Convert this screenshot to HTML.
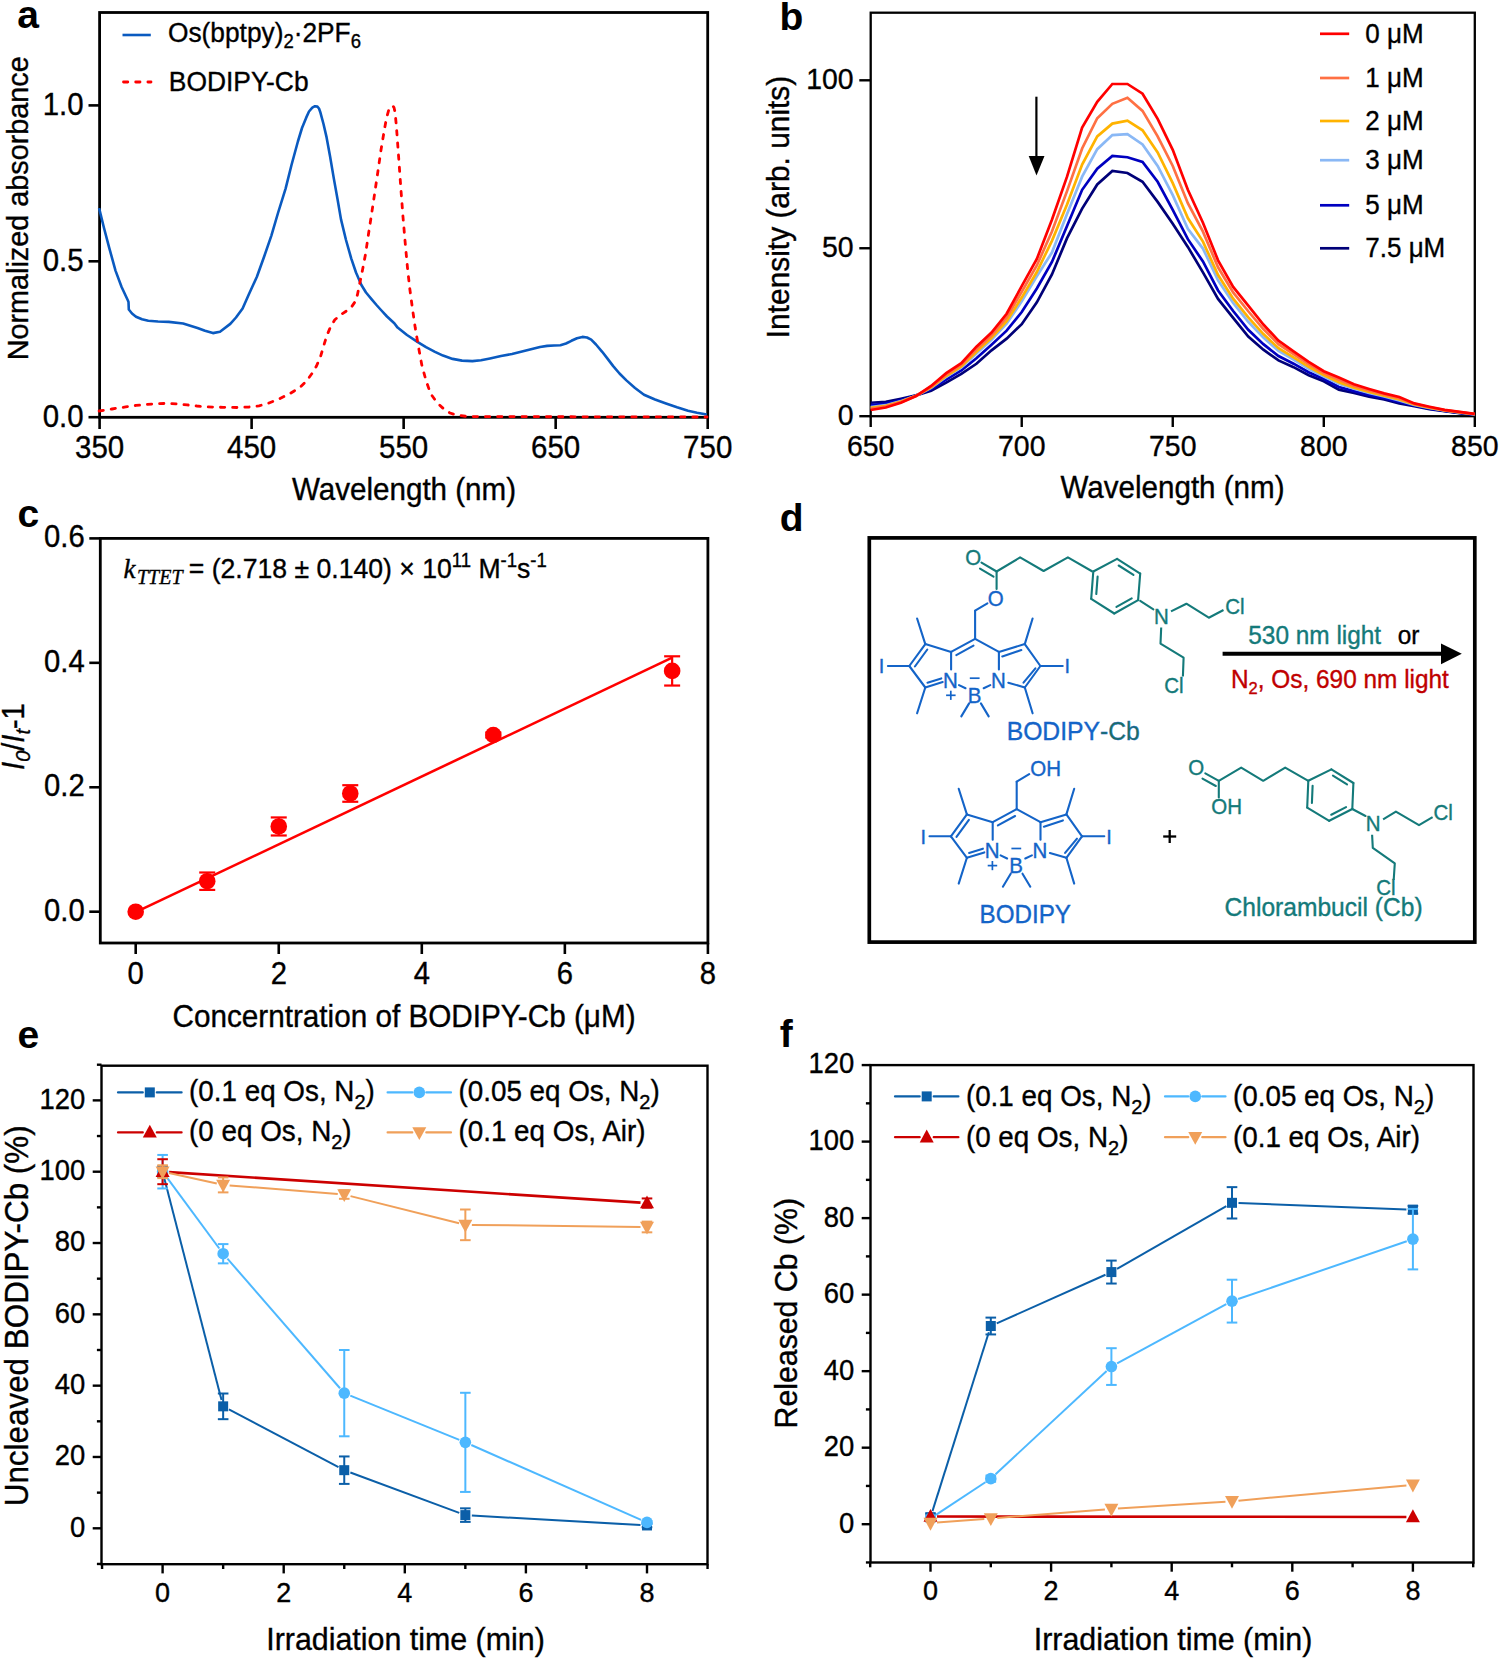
<!DOCTYPE html>
<html><head><meta charset="utf-8"><style>
html,body{margin:0;padding:0;background:#fff;}
body{width:1500px;height:1659px;overflow:hidden;}
svg{display:block;}
</style></head><body>
<svg width="1500" height="1659" viewBox="0 0 1500 1659">
<rect x="0" y="0" width="1500" height="1659" fill="#fff"/>
<rect x="99.6" y="12.5" width="608.1" height="404.8" fill="none" stroke="#000" stroke-width="2.8"/>
<line x1="88.5" y1="417.2" x2="99.6" y2="417.2" stroke="#000" stroke-width="2.6" stroke-linecap="butt" />
<text x="0" y="0" font-family='"Liberation Sans", sans-serif' font-size="29.4" fill="#000" stroke="#000" stroke-width="0.35" text-anchor="end" transform="translate(83.6,426.6) scale(1.0,1.05)" >0.0</text>
<line x1="88.5" y1="261.3" x2="99.6" y2="261.3" stroke="#000" stroke-width="2.6" stroke-linecap="butt" />
<text x="0" y="0" font-family='"Liberation Sans", sans-serif' font-size="29.4" fill="#000" stroke="#000" stroke-width="0.35" text-anchor="end" transform="translate(83.6,270.7) scale(1.0,1.05)" >0.5</text>
<line x1="88.5" y1="105.4" x2="99.6" y2="105.4" stroke="#000" stroke-width="2.6" stroke-linecap="butt" />
<text x="0" y="0" font-family='"Liberation Sans", sans-serif' font-size="29.4" fill="#000" stroke="#000" stroke-width="0.35" text-anchor="end" transform="translate(83.6,114.8) scale(1.0,1.05)" >1.0</text>
<line x1="99.6" y1="417.3" x2="99.6" y2="429" stroke="#000" stroke-width="2.6" stroke-linecap="butt" />
<text x="0" y="0" font-family='"Liberation Sans", sans-serif' font-size="29.5" fill="#000" stroke="#000" stroke-width="0.35" text-anchor="middle" transform="translate(99.6,458.2) scale(1.0,1.05)" >350</text>
<line x1="251.62" y1="417.3" x2="251.62" y2="429" stroke="#000" stroke-width="2.6" stroke-linecap="butt" />
<text x="0" y="0" font-family='"Liberation Sans", sans-serif' font-size="29.5" fill="#000" stroke="#000" stroke-width="0.35" text-anchor="middle" transform="translate(251.62,458.2) scale(1.0,1.05)" >450</text>
<line x1="403.65" y1="417.3" x2="403.65" y2="429" stroke="#000" stroke-width="2.6" stroke-linecap="butt" />
<text x="0" y="0" font-family='"Liberation Sans", sans-serif' font-size="29.5" fill="#000" stroke="#000" stroke-width="0.35" text-anchor="middle" transform="translate(403.65,458.2) scale(1.0,1.05)" >550</text>
<line x1="555.67" y1="417.3" x2="555.67" y2="429" stroke="#000" stroke-width="2.6" stroke-linecap="butt" />
<text x="0" y="0" font-family='"Liberation Sans", sans-serif' font-size="29.5" fill="#000" stroke="#000" stroke-width="0.35" text-anchor="middle" transform="translate(555.67,458.2) scale(1.0,1.05)" >650</text>
<line x1="707.7" y1="417.3" x2="707.7" y2="429" stroke="#000" stroke-width="2.6" stroke-linecap="butt" />
<text x="0" y="0" font-family='"Liberation Sans", sans-serif' font-size="29.5" fill="#000" stroke="#000" stroke-width="0.35" text-anchor="middle" transform="translate(707.7,458.2) scale(1.0,1.05)" >750</text>
<polyline points="99.1,208.1 104,228 109.3,248.1 115.5,270.6 121.6,287 127.8,300.3 128.5,302 128.8,309.5 132,313.5 136,316.7 142,319.3 148.3,320.8 158,321.5 168.8,321.9 183.1,323.5 197.5,328 205,330.8 212.9,333.1 220,331.7 230.3,323.9 236,317.5 242.6,308.5 249,294 256.9,276.8 264,257 271.3,235.8 278,213 285.6,188.6 291.5,165 297.9,141.5 302,128 306.1,117.9 309,111.5 312.3,107.7 315,106.2 317.4,106.6 319,108.5 320.5,112.8 323.5,124 326.6,137.4 330,156 333.8,178.4 337.5,199 341,219.4 346,240 351.2,258.3 356,272.5 361.4,285 366,292.5 371.7,299.3 376.5,305 381,310 387,316.5 394.3,323.2 397.6,327.6 407,335 417.4,341.9 426,347.2 435,351.8 443,355.6 452.6,358.9 462,360.6 472.4,361.1 481,360.2 490,358.4 501,356 512,354 523,351.3 534,348.5 540,347 547.2,345.9 554,345.5 560.4,345.2 566,343.5 571.4,340.8 577,338.2 582.4,336.9 587,337.5 591.2,339.7 596,344.5 602.2,351.8 607.5,358.6 613.2,366.1 619.5,373.5 626.4,380.4 635,388 644,394.7 655,399.5 666,403.5 677,407.3 688,410.8 697,412.7 706.7,414.5" fill="none" stroke="#0A5AC0" stroke-width="2.6" stroke-linejoin="round" stroke-linecap="butt" />
<polyline points="99.1,411 112,409 125.7,406.9 136,405.4 146.2,404.4 157,403.7 168.8,403.4 178,404 187.2,404.9 197,406 207.7,406.9 223,407.3 238.5,407.5 249,407 259,405.9 269,403 279.5,398.7 290,393.5 300,387.4 306.5,381 312.3,373.1 316.5,366 320.5,356.7 323.5,346.5 326.6,336.2 330.5,327 334.8,319.8 341,314.5 347.1,310.6 351.5,307 355.3,301.4 357.5,294.5 359.4,285 362.5,270 365.5,254.2 368.5,234 371.7,213.2 374.8,192.5 377.8,172.2 381,150 384.4,129.6 386.5,118 388.8,109.8 390.8,106.5 392.8,105.8 394,107.5 395,112 396.3,125 397.6,142.8 399.2,165 400.9,189 403,217 405.3,244 407.5,268 409.7,288 412.5,309 415.2,327.6 418.5,347 421.8,365 426,380.5 430.6,393.6 437,402.5 443.8,409 450,413 457,415.2 468,416.6 707,417" fill="none" stroke="#FF0000" stroke-width="2.8" stroke-linejoin="round" stroke-linecap="round" stroke-dasharray="4.3,7.9" />
<text x="0" y="0" font-family='"Liberation Sans", sans-serif' font-size="29.6" fill="#000" stroke="#000" stroke-width="0.35" text-anchor="middle" transform="translate(404,500.3) scale(1.0,1.05)" >Wavelength (nm)</text>
<text x="0" y="0" font-family='"Liberation Sans", sans-serif' font-size="28.8" fill="#000" stroke="#000" stroke-width="0.35" text-anchor="middle" transform="translate(27.5,208.3) rotate(-90) scale(1.0,1.05)" >Normalized absorbance</text>
<text x="0" y="0" font-family='"Liberation Sans", sans-serif' font-size="39" fill="#000" text-anchor="start" font-weight="bold" transform="translate(17.3,28)" >a</text>
<line x1="122.5" y1="35" x2="150.8" y2="35" stroke="#0A5AC0" stroke-width="2.6" stroke-linecap="butt" />
<text x="0" y="0" font-family='"Liberation Sans", sans-serif' font-size="26.3" fill="#000" stroke="#000" stroke-width="0.35" text-anchor="start" transform="translate(168,41.5) scale(1.0,1.05)" >Os(bptpy)<tspan font-size="18.5" dy="6">2</tspan><tspan dy="-6">·2PF</tspan><tspan font-size="18.5" dy="6">6</tspan></text>
<polyline points="123.5,82 151,82" fill="none" stroke="#FF0000" stroke-width="2.8" stroke-linejoin="round" stroke-linecap="round" stroke-dasharray="4.3,7.9" />
<text x="0" y="0" font-family='"Liberation Sans", sans-serif' font-size="26.4" fill="#000" stroke="#000" stroke-width="0.35" text-anchor="start" transform="translate(168.8,91.3) scale(1.0,1.05)" >BODIPY-Cb</text>
<rect x="870.7" y="12.7" width="604.1" height="403.5" fill="none" stroke="#000" stroke-width="2.3"/>
<line x1="859.3" y1="416.2" x2="870.7" y2="416.2" stroke="#000" stroke-width="2.4" stroke-linecap="butt" />
<text x="0" y="0" font-family='"Liberation Sans", sans-serif' font-size="28.4" fill="#000" stroke="#000" stroke-width="0.35" text-anchor="end" transform="translate(853.6,424.8) scale(1.0,1.05)" >0</text>
<line x1="859.3" y1="248.25" x2="870.7" y2="248.25" stroke="#000" stroke-width="2.4" stroke-linecap="butt" />
<text x="0" y="0" font-family='"Liberation Sans", sans-serif' font-size="28.4" fill="#000" stroke="#000" stroke-width="0.35" text-anchor="end" transform="translate(853.6,256.85) scale(1.0,1.05)" >50</text>
<line x1="859.3" y1="80.3" x2="870.7" y2="80.3" stroke="#000" stroke-width="2.4" stroke-linecap="butt" />
<text x="0" y="0" font-family='"Liberation Sans", sans-serif' font-size="28.4" fill="#000" stroke="#000" stroke-width="0.35" text-anchor="end" transform="translate(853.6,88.9) scale(1.0,1.05)" >100</text>
<line x1="870.7" y1="416.2" x2="870.7" y2="427" stroke="#000" stroke-width="2.4" stroke-linecap="butt" />
<text x="0" y="0" font-family='"Liberation Sans", sans-serif' font-size="28.4" fill="#000" stroke="#000" stroke-width="0.35" text-anchor="middle" transform="translate(870.7,456.4) scale(1.0,1.05)" >650</text>
<line x1="1021.73" y1="416.2" x2="1021.73" y2="427" stroke="#000" stroke-width="2.4" stroke-linecap="butt" />
<text x="0" y="0" font-family='"Liberation Sans", sans-serif' font-size="28.4" fill="#000" stroke="#000" stroke-width="0.35" text-anchor="middle" transform="translate(1021.73,456.4) scale(1.0,1.05)" >700</text>
<line x1="1172.75" y1="416.2" x2="1172.75" y2="427" stroke="#000" stroke-width="2.4" stroke-linecap="butt" />
<text x="0" y="0" font-family='"Liberation Sans", sans-serif' font-size="28.4" fill="#000" stroke="#000" stroke-width="0.35" text-anchor="middle" transform="translate(1172.75,456.4) scale(1.0,1.05)" >750</text>
<line x1="1323.78" y1="416.2" x2="1323.78" y2="427" stroke="#000" stroke-width="2.4" stroke-linecap="butt" />
<text x="0" y="0" font-family='"Liberation Sans", sans-serif' font-size="28.4" fill="#000" stroke="#000" stroke-width="0.35" text-anchor="middle" transform="translate(1323.78,456.4) scale(1.0,1.05)" >800</text>
<line x1="1474.8" y1="416.2" x2="1474.8" y2="427" stroke="#000" stroke-width="2.4" stroke-linecap="butt" />
<text x="0" y="0" font-family='"Liberation Sans", sans-serif' font-size="28.4" fill="#000" stroke="#000" stroke-width="0.35" text-anchor="middle" transform="translate(1474.8,456.4) scale(1.0,1.05)" >850</text>
<polyline points="870.7,402.76 885.8,401.76 900.91,398.73 916.01,395.37 931.11,390.67 946.21,382.61 961.32,373.88 976.42,363.8 991.52,350.36 1006.62,338.61 1021.73,324.16 1036.83,302.33 1051.93,274.45 1067.03,238.17 1082.13,208.61 1097.24,184.43 1112.34,170.99 1127.44,173.01 1142.55,181.74 1157.65,201.9 1172.75,223.73 1187.85,246.91 1202.95,272.43 1218.06,298.97 1233.16,317.78 1248.26,336.59 1263.37,349.69 1278.47,360.44 1293.57,367.16 1308.67,375.22 1323.78,381.27 1338.88,389.66 1353.98,393.02 1369.08,396.72 1384.18,399.4 1399.29,403.44 1414.39,406.12 1429.49,409.15 1444.6,411.16 1459.7,413.18 1474.8,414.86" fill="none" stroke="#000078" stroke-width="2.7" stroke-linejoin="miter" stroke-linecap="butt" />
<polyline points="870.7,405.07 885.8,403.58 900.91,400.02 916.01,395.59 931.11,389.17 946.21,379.6 961.32,370.44 976.42,358.32 991.52,344.67 1006.62,330.65 1021.73,312.02 1036.83,288.46 1051.93,262.02 1067.03,226.08 1082.13,189.8 1097.24,168.64 1112.34,155.88 1127.44,157.22 1142.55,161.92 1157.65,181.74 1172.75,209.96 1187.85,239.18 1202.95,261.5 1218.06,290.47 1233.16,310.98 1248.26,329.79 1263.37,344.15 1278.47,356.08 1293.57,363.69 1308.67,372.26 1323.78,379.05 1338.88,387 1353.98,391.1 1369.08,395.02 1384.18,398.07 1399.29,402.03 1414.39,405.53 1429.49,408.63 1444.6,410.87 1459.7,412.88 1474.8,414.63" fill="none" stroke="#0000C0" stroke-width="2.7" stroke-linejoin="miter" stroke-linecap="butt" />
<polyline points="870.7,407.1 885.8,405.18 900.91,401.15 916.01,395.78 931.11,387.85 946.21,376.97 961.32,367.43 976.42,353.52 991.52,339.68 1006.62,323.69 1021.73,301.39 1036.83,276.33 1051.93,252.55 1067.03,213.99 1082.13,176.7 1097.24,149.16 1112.34,135.05 1127.44,134.04 1142.55,144.46 1157.65,165.95 1172.75,195.18 1187.85,228.77 1202.95,248.57 1218.06,280.43 1233.16,302.95 1248.26,321.76 1263.37,337.6 1278.47,350.93 1293.57,359.58 1308.67,368.77 1323.78,376.43 1338.88,383.86 1353.98,388.83 1369.08,393.01 1384.18,396.5 1399.29,400.37 1414.39,404.83 1429.49,408.02 1444.6,410.52 1459.7,412.53 1474.8,414.37" fill="none" stroke="#8AB8F5" stroke-width="2.7" stroke-linejoin="miter" stroke-linecap="butt" />
<polyline points="870.7,407.82 885.8,405.75 900.91,401.55 916.01,395.84 931.11,387.38 946.21,376.03 961.32,366.35 976.42,351.81 991.52,337.9 1006.62,321.21 1021.73,297.59 1036.83,272 1051.93,240.86 1067.03,204.58 1082.13,164.61 1097.24,136.4 1112.34,123.63 1127.44,120.61 1142.55,130.35 1157.65,152.52 1172.75,183.09 1187.85,218.02 1202.95,241.61 1218.06,275.02 1233.16,298.62 1248.26,317.43 1263.37,334.07 1278.47,348.15 1293.57,357.37 1308.67,366.89 1323.78,375.02 1338.88,382.17 1353.98,387.61 1369.08,391.93 1384.18,395.66 1399.29,399.48 1414.39,404.46 1429.49,407.69 1444.6,410.33 1459.7,412.34 1474.8,414.23" fill="none" stroke="#FFB300" stroke-width="2.7" stroke-linejoin="miter" stroke-linecap="butt" />
<polyline points="870.7,408.9 885.8,406.61 900.91,402.16 916.01,395.95 931.11,386.67 946.21,374.62 961.32,364.74 976.42,349.24 991.52,335.23 1006.62,317.48 1021.73,291.9 1036.83,265.5 1051.93,231.45 1067.03,191.15 1082.13,148.49 1097.24,118.26 1112.34,103.81 1127.44,97.77 1142.55,110.87 1157.65,136.4 1172.75,165.95 1187.85,203.24 1202.95,231.67 1218.06,267.3 1233.16,292.44 1248.26,311.25 1263.37,329.03 1278.47,344.19 1293.57,354.21 1308.67,364.2 1323.78,373 1338.88,379.75 1353.98,385.86 1369.08,390.38 1384.18,394.45 1399.29,398.2 1414.39,403.92 1429.49,407.22 1444.6,410.06 1459.7,412.08 1474.8,414.03" fill="none" stroke="#FF7043" stroke-width="2.7" stroke-linejoin="miter" stroke-linecap="butt" />
<polyline points="870.7,409.99 885.8,407.47 900.91,402.76 916.01,396.05 931.11,385.97 946.21,373.2 961.32,363.13 976.42,346.67 991.52,332.56 1006.62,313.75 1021.73,286.21 1036.83,259 1051.93,219.7 1067.03,176.7 1082.13,127.66 1097.24,101.8 1112.34,83.99 1127.44,83.99 1142.55,93.74 1157.65,118.93 1172.75,149.83 1187.85,189.8 1202.95,222.72 1218.06,260.34 1233.16,286.88 1248.26,305.69 1263.37,324.5 1278.47,340.62 1293.57,351.37 1308.67,361.78 1323.78,371.19 1338.88,377.57 1353.98,384.29 1369.08,388.99 1384.18,393.36 1399.29,397.05 1414.39,403.44 1429.49,406.79 1444.6,409.82 1459.7,411.83 1474.8,413.85" fill="none" stroke="#FF0000" stroke-width="2.7" stroke-linejoin="miter" stroke-linecap="butt" />
<line x1="1320" y1="33.8" x2="1349.2" y2="33.8" stroke="#FF0000" stroke-width="2.7" stroke-linecap="butt" />
<text x="0" y="0" font-family='"Liberation Sans", sans-serif' font-size="26" fill="#000" stroke="#000" stroke-width="0.35" text-anchor="start" transform="translate(1365.3,42.7) scale(1.0,1.05)" >0 μM</text>
<line x1="1320" y1="78" x2="1349.2" y2="78" stroke="#FF7043" stroke-width="2.7" stroke-linecap="butt" />
<text x="0" y="0" font-family='"Liberation Sans", sans-serif' font-size="26" fill="#000" stroke="#000" stroke-width="0.35" text-anchor="start" transform="translate(1365.3,86.9) scale(1.0,1.05)" >1 μM</text>
<line x1="1320" y1="121" x2="1349.2" y2="121" stroke="#FFB300" stroke-width="2.7" stroke-linecap="butt" />
<text x="0" y="0" font-family='"Liberation Sans", sans-serif' font-size="26" fill="#000" stroke="#000" stroke-width="0.35" text-anchor="start" transform="translate(1365.3,129.9) scale(1.0,1.05)" >2 μM</text>
<line x1="1320" y1="160.2" x2="1349.2" y2="160.2" stroke="#8AB8F5" stroke-width="2.7" stroke-linecap="butt" />
<text x="0" y="0" font-family='"Liberation Sans", sans-serif' font-size="26" fill="#000" stroke="#000" stroke-width="0.35" text-anchor="start" transform="translate(1365.3,169.1) scale(1.0,1.05)" >3 μM</text>
<line x1="1320" y1="205.3" x2="1349.2" y2="205.3" stroke="#0000C0" stroke-width="2.7" stroke-linecap="butt" />
<text x="0" y="0" font-family='"Liberation Sans", sans-serif' font-size="26" fill="#000" stroke="#000" stroke-width="0.35" text-anchor="start" transform="translate(1365.3,214.2) scale(1.0,1.05)" >5 μM</text>
<line x1="1320" y1="248.3" x2="1349.2" y2="248.3" stroke="#000078" stroke-width="2.7" stroke-linecap="butt" />
<text x="0" y="0" font-family='"Liberation Sans", sans-serif' font-size="26" fill="#000" stroke="#000" stroke-width="0.35" text-anchor="start" transform="translate(1365.3,257.2) scale(1.0,1.05)" >7.5 μM</text>
<line x1="1036.4" y1="96.7" x2="1036.4" y2="158" stroke="#000" stroke-width="2.2" stroke-linecap="butt" />
<polygon points="1028.7,156 1044.5,156 1036.5,175.5" fill="#000" stroke="none" stroke-width="0"/>
<text x="0" y="0" font-family='"Liberation Sans", sans-serif' font-size="29.6" fill="#000" stroke="#000" stroke-width="0.35" text-anchor="middle" transform="translate(1172.5,498.4) scale(1.0,1.05)" >Wavelength (nm)</text>
<text x="0" y="0" font-family='"Liberation Sans", sans-serif' font-size="29.9" fill="#000" stroke="#000" stroke-width="0.35" text-anchor="middle" transform="translate(789,207) rotate(-90) scale(1.0,1.05)" >Intensity (arb. units)</text>
<text x="0" y="0" font-family='"Liberation Sans", sans-serif' font-size="39" fill="#000" text-anchor="start" font-weight="bold" transform="translate(779.6,30.4)" >b</text>
<rect x="100.3" y="538.4" width="607.6" height="404.6" fill="none" stroke="#000" stroke-width="2.8"/>
<line x1="89.3" y1="911.7" x2="100.3" y2="911.7" stroke="#000" stroke-width="2.6" stroke-linecap="butt" />
<text x="0" y="0" font-family='"Liberation Sans", sans-serif' font-size="29.2" fill="#000" stroke="#000" stroke-width="0.35" text-anchor="end" transform="translate(84.7,920.6) scale(1.0,1.05)" >0.0</text>
<line x1="89.3" y1="787.27" x2="100.3" y2="787.27" stroke="#000" stroke-width="2.6" stroke-linecap="butt" />
<text x="0" y="0" font-family='"Liberation Sans", sans-serif' font-size="29.2" fill="#000" stroke="#000" stroke-width="0.35" text-anchor="end" transform="translate(84.7,796.17) scale(1.0,1.05)" >0.2</text>
<line x1="89.3" y1="662.83" x2="100.3" y2="662.83" stroke="#000" stroke-width="2.6" stroke-linecap="butt" />
<text x="0" y="0" font-family='"Liberation Sans", sans-serif' font-size="29.2" fill="#000" stroke="#000" stroke-width="0.35" text-anchor="end" transform="translate(84.7,671.73) scale(1.0,1.05)" >0.4</text>
<line x1="89.3" y1="538.4" x2="100.3" y2="538.4" stroke="#000" stroke-width="2.6" stroke-linecap="butt" />
<text x="0" y="0" font-family='"Liberation Sans", sans-serif' font-size="29.2" fill="#000" stroke="#000" stroke-width="0.35" text-anchor="end" transform="translate(84.7,547.3) scale(1.0,1.05)" >0.6</text>
<line x1="135.7" y1="943" x2="135.7" y2="954" stroke="#000" stroke-width="2.6" stroke-linecap="butt" />
<text x="0" y="0" font-family='"Liberation Sans", sans-serif' font-size="29.2" fill="#000" stroke="#000" stroke-width="0.35" text-anchor="middle" transform="translate(135.7,984.2) scale(1.0,1.05)" >0</text>
<line x1="278.75" y1="943" x2="278.75" y2="954" stroke="#000" stroke-width="2.6" stroke-linecap="butt" />
<text x="0" y="0" font-family='"Liberation Sans", sans-serif' font-size="29.2" fill="#000" stroke="#000" stroke-width="0.35" text-anchor="middle" transform="translate(278.75,984.2) scale(1.0,1.05)" >2</text>
<line x1="421.8" y1="943" x2="421.8" y2="954" stroke="#000" stroke-width="2.6" stroke-linecap="butt" />
<text x="0" y="0" font-family='"Liberation Sans", sans-serif' font-size="29.2" fill="#000" stroke="#000" stroke-width="0.35" text-anchor="middle" transform="translate(421.8,984.2) scale(1.0,1.05)" >4</text>
<line x1="564.85" y1="943" x2="564.85" y2="954" stroke="#000" stroke-width="2.6" stroke-linecap="butt" />
<text x="0" y="0" font-family='"Liberation Sans", sans-serif' font-size="29.2" fill="#000" stroke="#000" stroke-width="0.35" text-anchor="middle" transform="translate(564.85,984.2) scale(1.0,1.05)" >6</text>
<line x1="707.9" y1="943" x2="707.9" y2="954" stroke="#000" stroke-width="2.6" stroke-linecap="butt" />
<text x="0" y="0" font-family='"Liberation Sans", sans-serif' font-size="29.2" fill="#000" stroke="#000" stroke-width="0.35" text-anchor="middle" transform="translate(707.9,984.2) scale(1.0,1.05)" >8</text>
<line x1="135.7" y1="912.2" x2="672.14" y2="657.69" stroke="#FF0000" stroke-width="2.6" stroke-linecap="butt" />
<circle cx="135.7" cy="911.7" r="8.3" fill="#FF0000"/>
<line x1="207.22" y1="872.5" x2="207.22" y2="889.92" stroke="#FF0000" stroke-width="2.2" stroke-linecap="butt" />
<line x1="199.22" y1="872.5" x2="215.22" y2="872.5" stroke="#FF0000" stroke-width="2.2" stroke-linecap="butt" />
<line x1="199.22" y1="889.92" x2="215.22" y2="889.92" stroke="#FF0000" stroke-width="2.2" stroke-linecap="butt" />
<circle cx="207.22" cy="881.21" r="8.3" fill="#FF0000"/>
<line x1="278.75" y1="817.44" x2="278.75" y2="835.48" stroke="#FF0000" stroke-width="2.2" stroke-linecap="butt" />
<line x1="270.75" y1="817.44" x2="286.75" y2="817.44" stroke="#FF0000" stroke-width="2.2" stroke-linecap="butt" />
<line x1="270.75" y1="835.48" x2="286.75" y2="835.48" stroke="#FF0000" stroke-width="2.2" stroke-linecap="butt" />
<circle cx="278.75" cy="826.46" r="8.3" fill="#FF0000"/>
<line x1="350.27" y1="785.21" x2="350.27" y2="801.76" stroke="#FF0000" stroke-width="2.2" stroke-linecap="butt" />
<line x1="342.27" y1="785.21" x2="358.27" y2="785.21" stroke="#FF0000" stroke-width="2.2" stroke-linecap="butt" />
<line x1="342.27" y1="801.76" x2="358.27" y2="801.76" stroke="#FF0000" stroke-width="2.2" stroke-linecap="butt" />
<circle cx="350.27" cy="793.49" r="8.3" fill="#FF0000"/>
<line x1="493.32" y1="732.52" x2="493.32" y2="737.49" stroke="#FF0000" stroke-width="2.2" stroke-linecap="butt" />
<line x1="485.32" y1="732.52" x2="501.32" y2="732.52" stroke="#FF0000" stroke-width="2.2" stroke-linecap="butt" />
<line x1="485.32" y1="737.49" x2="501.32" y2="737.49" stroke="#FF0000" stroke-width="2.2" stroke-linecap="butt" />
<circle cx="493.32" cy="735" r="8.3" fill="#FF0000"/>
<line x1="672.14" y1="656.3" x2="672.14" y2="685.54" stroke="#FF0000" stroke-width="2.2" stroke-linecap="butt" />
<line x1="664.14" y1="656.3" x2="680.14" y2="656.3" stroke="#FF0000" stroke-width="2.2" stroke-linecap="butt" />
<line x1="664.14" y1="685.54" x2="680.14" y2="685.54" stroke="#FF0000" stroke-width="2.2" stroke-linecap="butt" />
<circle cx="672.14" cy="670.92" r="8.3" fill="#FF0000"/>
<text x="0" y="0" font-family='"Liberation Sans", sans-serif' font-size="29.7" fill="#000" stroke="#000" stroke-width="0.35" text-anchor="middle" transform="translate(404,1026.6) scale(1.0,1.05)" >Concerntration of BODIPY-Cb (μM)</text>
<text x="0" y="0" font-family='"Liberation Sans", sans-serif' font-size="29" fill="#000" stroke="#000" stroke-width="0.35" text-anchor="middle" transform="translate(24,736.6) rotate(-90) scale(1.0,1.05)" ><tspan font-style="italic">I</tspan><tspan font-style="italic" font-size="20" dy="6">0</tspan><tspan dy="-6">/</tspan><tspan font-style="italic">I</tspan><tspan font-style="italic" font-size="20" dy="6">t</tspan><tspan dy="-6">-1</tspan></text>
<text x="0" y="0" font-family='"Liberation Sans", sans-serif' font-size="39" fill="#000" text-anchor="start" font-weight="bold" transform="translate(17.5,527.3)" >c</text>
<text x="0" y="0" font-family='"Liberation Serif", serif' font-size="27" fill="#000" stroke="#000" stroke-width="0.35" text-anchor="start" font-style="italic" transform="translate(123.5,577.6) scale(1.0,1.05)" >k</text>
<text x="0" y="0" font-family='"Liberation Serif", serif' font-size="20" fill="#000" stroke="#000" stroke-width="0.35" text-anchor="start" font-style="italic" transform="translate(137,584.3) scale(1.0,1.05)" >TTET</text>
<text x="0" y="0" font-family='"Liberation Sans", sans-serif' font-size="26.6" fill="#000" stroke="#000" stroke-width="0.35" text-anchor="start" transform="translate(188.8,577.6) scale(1.0,1.05)" >= (2.718 ± 0.140) × 10<tspan font-size="18.5" dy="-10">11</tspan><tspan dy="10"> M</tspan><tspan font-size="18.5" dy="-10">-1</tspan><tspan dy="10">s</tspan><tspan font-size="18.5" dy="-10">-1</tspan></text>
<rect x="869.3" y="537.9" width="605.5" height="404.2" fill="none" stroke="#000" stroke-width="3.7"/>
<text x="0" y="0" font-family='"Liberation Sans", sans-serif' font-size="39" fill="#000" text-anchor="start" font-weight="bold" transform="translate(779.8,531.2)" >d</text>
<line x1="975.1" y1="638.9" x2="951.1" y2="651.9" stroke="#1464C8" stroke-width="2.1" stroke-linecap="round" />
<line x1="975.1" y1="638.9" x2="998.9" y2="651.9" stroke="#1464C8" stroke-width="2.1" stroke-linecap="round" />
<line x1="956.3" y1="655.1" x2="973.5" y2="645.7" stroke="#1464C8" stroke-width="2.1" stroke-linecap="round" />
<line x1="951.1" y1="651.9" x2="925.3" y2="644.1" stroke="#1464C8" stroke-width="2.1" stroke-linecap="round" />
<line x1="925.3" y1="644.1" x2="909.3" y2="666" stroke="#1464C8" stroke-width="2.1" stroke-linecap="round" />
<line x1="909.3" y1="666" x2="925.3" y2="687.5" stroke="#1464C8" stroke-width="2.1" stroke-linecap="round" />
<line x1="927.3" y1="649.5" x2="914.9" y2="666.5" stroke="#1464C8" stroke-width="2.1" stroke-linecap="round" />
<line x1="925.3" y1="687.5" x2="942.7" y2="682.1" stroke="#1464C8" stroke-width="2.1" stroke-linecap="round" />
<line x1="927.5" y1="682.7" x2="941.3" y2="678.4" stroke="#1464C8" stroke-width="2.1" stroke-linecap="round" />
<line x1="951.1" y1="651.9" x2="951.1" y2="669.4" stroke="#1464C8" stroke-width="2.1" stroke-linecap="round" />
<line x1="998.9" y1="651.9" x2="1024.8" y2="644.1" stroke="#1464C8" stroke-width="2.1" stroke-linecap="round" />
<line x1="1024.8" y1="644.1" x2="1040.4" y2="666" stroke="#1464C8" stroke-width="2.1" stroke-linecap="round" />
<line x1="1040.4" y1="666" x2="1024.8" y2="687.5" stroke="#1464C8" stroke-width="2.1" stroke-linecap="round" />
<line x1="1002.3" y1="656.4" x2="1021.3" y2="650.1" stroke="#1464C8" stroke-width="2.1" stroke-linecap="round" />
<line x1="1035.4" y1="668.4" x2="1023.5" y2="682.6" stroke="#1464C8" stroke-width="2.1" stroke-linecap="round" />
<line x1="1024.8" y1="687.5" x2="1008.3" y2="682.7" stroke="#1464C8" stroke-width="2.1" stroke-linecap="round" />
<line x1="998.9" y1="651.9" x2="998.9" y2="669.4" stroke="#1464C8" stroke-width="2.1" stroke-linecap="round" />
<line x1="925.3" y1="644.1" x2="917.1" y2="618.5" stroke="#1464C8" stroke-width="2.1" stroke-linecap="round" />
<line x1="925.3" y1="687.5" x2="917.1" y2="713.3" stroke="#1464C8" stroke-width="2.1" stroke-linecap="round" />
<line x1="1024.8" y1="644.1" x2="1032.6" y2="618.5" stroke="#1464C8" stroke-width="2.1" stroke-linecap="round" />
<line x1="1024.8" y1="687.5" x2="1032.6" y2="713.3" stroke="#1464C8" stroke-width="2.1" stroke-linecap="round" />
<line x1="909.3" y1="666" x2="887.9" y2="666" stroke="#1464C8" stroke-width="2.1" stroke-linecap="round" />
<line x1="1040.4" y1="666" x2="1062.7" y2="666" stroke="#1464C8" stroke-width="2.1" stroke-linecap="round" />
<text x="0" y="0" font-family='"Liberation Sans", sans-serif' font-size="20" fill="#1464C8" stroke="#1464C8" stroke-width="0.35" text-anchor="middle" transform="translate(881.6,673.2) scale(1.0,1.05)" >I</text>
<text x="0" y="0" font-family='"Liberation Sans", sans-serif' font-size="20" fill="#1464C8" stroke="#1464C8" stroke-width="0.35" text-anchor="middle" transform="translate(1067.3,673.2) scale(1.0,1.05)" >I</text>
<text x="0" y="0" font-family='"Liberation Sans", sans-serif' font-size="20.5" fill="#1464C8" stroke="#1464C8" stroke-width="0.35" text-anchor="middle" transform="translate(950.5,687.7) scale(1.0,1.05)" >N</text>
<text x="0" y="0" font-family='"Liberation Sans", sans-serif' font-size="20.5" fill="#1464C8" stroke="#1464C8" stroke-width="0.35" text-anchor="middle" transform="translate(998.3,687.7) scale(1.0,1.05)" >N</text>
<text x="0" y="0" font-family='"Liberation Sans", sans-serif' font-size="20.5" fill="#1464C8" stroke="#1464C8" stroke-width="0.35" text-anchor="middle" transform="translate(974.6,702.5) scale(1.0,1.05)" >B</text>
<line x1="969.8" y1="678.2" x2="979.6" y2="678.2" stroke="#1464C8" stroke-width="1.7" stroke-linecap="butt" />
<line x1="946.1" y1="695.3" x2="955.6" y2="695.3" stroke="#1464C8" stroke-width="1.7" stroke-linecap="butt" />
<line x1="950.8" y1="690.7" x2="950.8" y2="699.9" stroke="#1464C8" stroke-width="1.7" stroke-linecap="butt" />
<line x1="959" y1="685.1" x2="965.5" y2="688.2" stroke="#1464C8" stroke-width="2.1" stroke-linecap="round" />
<line x1="983.7" y1="688.2" x2="990.3" y2="685.1" stroke="#1464C8" stroke-width="2.1" stroke-linecap="round" />
<line x1="969.1" y1="703.4" x2="961.3" y2="716.4" stroke="#1464C8" stroke-width="2.1" stroke-linecap="round" />
<line x1="980.9" y1="703.4" x2="988.7" y2="716.4" stroke="#1464C8" stroke-width="2.1" stroke-linecap="round" />
<line x1="975.1" y1="638.9" x2="975.1" y2="610.7" stroke="#1464C8" stroke-width="2.1" stroke-linecap="round" />
<line x1="975.1" y1="610.7" x2="987.4" y2="603.4" stroke="#1464C8" stroke-width="2.1" stroke-linecap="round" />
<text x="0" y="0" font-family='"Liberation Sans", sans-serif' font-size="20.5" fill="#1464C8" stroke="#1464C8" stroke-width="0.35" text-anchor="middle" transform="translate(995.8,606.2) scale(1.0,1.05)" >O</text>
<line x1="996.6" y1="589" x2="996.6" y2="571.5" stroke="#147A7A" stroke-width="2.1" stroke-linecap="round" />
<line x1="996.6" y1="571.5" x2="981.5" y2="562.6" stroke="#147A7A" stroke-width="2.1" stroke-linecap="round" />
<line x1="993.5" y1="576.6" x2="980" y2="568.6" stroke="#147A7A" stroke-width="2.1" stroke-linecap="round" />
<text x="0" y="0" font-family='"Liberation Sans", sans-serif' font-size="20.5" fill="#147A7A" stroke="#147A7A" stroke-width="0.35" text-anchor="middle" transform="translate(973.3,564.6) scale(1.0,1.05)" >O</text>
<polyline points="996.6,571.5 1020.1,557.4 1043.6,571 1067.9,557.4 1092.4,571.5" fill="none" stroke="#147A7A" stroke-width="2.1" stroke-linejoin="round" stroke-linecap="butt" />
<line x1="1093.3" y1="571.5" x2="1117.1" y2="558.9" stroke="#147A7A" stroke-width="2.1" stroke-linecap="round" />
<line x1="1117.1" y1="558.9" x2="1140.2" y2="573.6" stroke="#147A7A" stroke-width="2.1" stroke-linecap="round" />
<line x1="1140.2" y1="573.6" x2="1138.1" y2="600.2" stroke="#147A7A" stroke-width="2.1" stroke-linecap="round" />
<line x1="1138.1" y1="600.2" x2="1114.3" y2="613.5" stroke="#147A7A" stroke-width="2.1" stroke-linecap="round" />
<line x1="1114.3" y1="613.5" x2="1091.2" y2="598.8" stroke="#147A7A" stroke-width="2.1" stroke-linecap="round" />
<line x1="1091.2" y1="598.8" x2="1093.3" y2="571.5" stroke="#147A7A" stroke-width="2.1" stroke-linecap="round" />
<line x1="1118.67" y1="565.51" x2="1133.45" y2="574.92" stroke="#147A7A" stroke-width="2.1" stroke-linecap="round" />
<line x1="1131.72" y1="598.44" x2="1116.48" y2="606.95" stroke="#147A7A" stroke-width="2.1" stroke-linecap="round" />
<line x1="1096.27" y1="594.07" x2="1097.61" y2="576.6" stroke="#147A7A" stroke-width="2.1" stroke-linecap="round" />
<line x1="1140.2" y1="600.9" x2="1153.4" y2="609.3" stroke="#147A7A" stroke-width="2.1" stroke-linecap="round" />
<text x="0" y="0" font-family='"Liberation Sans", sans-serif' font-size="20.5" fill="#147A7A" stroke="#147A7A" stroke-width="0.35" text-anchor="middle" transform="translate(1161.4,624) scale(1.0,1.05)" >N</text>
<polyline points="1171,611.4 1186.4,603.7 1208.8,617.7 1223.5,610" fill="none" stroke="#147A7A" stroke-width="2.1" stroke-linejoin="round" stroke-linecap="butt" />
<text x="0" y="0" font-family='"Liberation Sans", sans-serif' font-size="20.5" fill="#147A7A" stroke="#147A7A" stroke-width="0.35" text-anchor="start" transform="translate(1225.3,613.5) scale(1.0,1.05)" >Cl</text>
<polyline points="1161.2,627.5 1160.5,643.6 1183.6,657.6 1182.9,676.5" fill="none" stroke="#147A7A" stroke-width="2.1" stroke-linejoin="round" stroke-linecap="butt" />
<text x="0" y="0" font-family='"Liberation Sans", sans-serif' font-size="20.5" fill="#147A7A" stroke="#147A7A" stroke-width="0.35" text-anchor="start" transform="translate(1164.3,693.3) scale(1.0,1.05)" >Cl</text>
<text x="0" y="0" font-family='"Liberation Sans", sans-serif' font-size="24.7" fill="#1464C8" stroke="#1464C8" stroke-width="0.35" text-anchor="start" transform="translate(1006.7,739.7) scale(1.0,1.05)" >BODIPY<tspan fill="#1C6E5E">-Cb</tspan></text>
<line x1="1222.6" y1="653.8" x2="1443" y2="653.8" stroke="#000" stroke-width="4.1" stroke-linecap="butt" />
<polygon points="1441,643.6 1441,664.2 1461.8,653.8" fill="#000" stroke="none" stroke-width="0"/>
<text x="0" y="0" font-family='"Liberation Sans", sans-serif' font-size="24.4" fill="#147A7A" stroke="#147A7A" stroke-width="0.35" text-anchor="start" transform="translate(1248.3,643.8) scale(1.0,1.05)" >530 nm light</text>
<text x="0" y="0" font-family='"Liberation Sans", sans-serif' font-size="24.4" fill="#000" stroke="#000" stroke-width="0.35" text-anchor="start" transform="translate(1397.8,643.8) scale(1.0,1.05)" >or</text>
<text x="0" y="0" font-family='"Liberation Sans", sans-serif' font-size="24.4" fill="#C00000" stroke="#C00000" stroke-width="0.35" text-anchor="start" transform="translate(1231,687.8) scale(1.0,1.05)" >N<tspan font-size="16.5" dy="5.5">2</tspan><tspan dy="-5.5">, Os, 690 nm light</tspan></text>
<line x1="1016.7" y1="809.2" x2="992.7" y2="822.2" stroke="#1464C8" stroke-width="2.1" stroke-linecap="round" />
<line x1="1016.7" y1="809.2" x2="1040.5" y2="822.2" stroke="#1464C8" stroke-width="2.1" stroke-linecap="round" />
<line x1="997.9" y1="825.4" x2="1015.1" y2="816" stroke="#1464C8" stroke-width="2.1" stroke-linecap="round" />
<line x1="992.7" y1="822.2" x2="966.9" y2="814.4" stroke="#1464C8" stroke-width="2.1" stroke-linecap="round" />
<line x1="966.9" y1="814.4" x2="950.9" y2="836.3" stroke="#1464C8" stroke-width="2.1" stroke-linecap="round" />
<line x1="950.9" y1="836.3" x2="966.9" y2="857.8" stroke="#1464C8" stroke-width="2.1" stroke-linecap="round" />
<line x1="968.9" y1="819.8" x2="956.5" y2="836.8" stroke="#1464C8" stroke-width="2.1" stroke-linecap="round" />
<line x1="966.9" y1="857.8" x2="984.3" y2="852.4" stroke="#1464C8" stroke-width="2.1" stroke-linecap="round" />
<line x1="969.1" y1="853" x2="982.9" y2="848.7" stroke="#1464C8" stroke-width="2.1" stroke-linecap="round" />
<line x1="992.7" y1="822.2" x2="992.7" y2="839.7" stroke="#1464C8" stroke-width="2.1" stroke-linecap="round" />
<line x1="1040.5" y1="822.2" x2="1066.4" y2="814.4" stroke="#1464C8" stroke-width="2.1" stroke-linecap="round" />
<line x1="1066.4" y1="814.4" x2="1082" y2="836.3" stroke="#1464C8" stroke-width="2.1" stroke-linecap="round" />
<line x1="1082" y1="836.3" x2="1066.4" y2="857.8" stroke="#1464C8" stroke-width="2.1" stroke-linecap="round" />
<line x1="1043.9" y1="826.7" x2="1062.9" y2="820.4" stroke="#1464C8" stroke-width="2.1" stroke-linecap="round" />
<line x1="1077" y1="838.7" x2="1065.1" y2="852.9" stroke="#1464C8" stroke-width="2.1" stroke-linecap="round" />
<line x1="1066.4" y1="857.8" x2="1049.9" y2="853" stroke="#1464C8" stroke-width="2.1" stroke-linecap="round" />
<line x1="1040.5" y1="822.2" x2="1040.5" y2="839.7" stroke="#1464C8" stroke-width="2.1" stroke-linecap="round" />
<line x1="966.9" y1="814.4" x2="958.7" y2="788.8" stroke="#1464C8" stroke-width="2.1" stroke-linecap="round" />
<line x1="966.9" y1="857.8" x2="958.7" y2="883.6" stroke="#1464C8" stroke-width="2.1" stroke-linecap="round" />
<line x1="1066.4" y1="814.4" x2="1074.2" y2="788.8" stroke="#1464C8" stroke-width="2.1" stroke-linecap="round" />
<line x1="1066.4" y1="857.8" x2="1074.2" y2="883.6" stroke="#1464C8" stroke-width="2.1" stroke-linecap="round" />
<line x1="950.9" y1="836.3" x2="929.5" y2="836.3" stroke="#1464C8" stroke-width="2.1" stroke-linecap="round" />
<line x1="1082" y1="836.3" x2="1104.3" y2="836.3" stroke="#1464C8" stroke-width="2.1" stroke-linecap="round" />
<text x="0" y="0" font-family='"Liberation Sans", sans-serif' font-size="20" fill="#1464C8" stroke="#1464C8" stroke-width="0.35" text-anchor="middle" transform="translate(923.2,843.5) scale(1.0,1.05)" >I</text>
<text x="0" y="0" font-family='"Liberation Sans", sans-serif' font-size="20" fill="#1464C8" stroke="#1464C8" stroke-width="0.35" text-anchor="middle" transform="translate(1108.9,843.5) scale(1.0,1.05)" >I</text>
<text x="0" y="0" font-family='"Liberation Sans", sans-serif' font-size="20.5" fill="#1464C8" stroke="#1464C8" stroke-width="0.35" text-anchor="middle" transform="translate(992.1,858) scale(1.0,1.05)" >N</text>
<text x="0" y="0" font-family='"Liberation Sans", sans-serif' font-size="20.5" fill="#1464C8" stroke="#1464C8" stroke-width="0.35" text-anchor="middle" transform="translate(1039.9,858) scale(1.0,1.05)" >N</text>
<text x="0" y="0" font-family='"Liberation Sans", sans-serif' font-size="20.5" fill="#1464C8" stroke="#1464C8" stroke-width="0.35" text-anchor="middle" transform="translate(1016.2,872.8) scale(1.0,1.05)" >B</text>
<line x1="1011.4" y1="848.5" x2="1021.2" y2="848.5" stroke="#1464C8" stroke-width="1.7" stroke-linecap="butt" />
<line x1="987.7" y1="865.6" x2="997.2" y2="865.6" stroke="#1464C8" stroke-width="1.7" stroke-linecap="butt" />
<line x1="992.4" y1="861" x2="992.4" y2="870.2" stroke="#1464C8" stroke-width="1.7" stroke-linecap="butt" />
<line x1="1000.6" y1="855.4" x2="1007.1" y2="858.5" stroke="#1464C8" stroke-width="2.1" stroke-linecap="round" />
<line x1="1025.3" y1="858.5" x2="1031.9" y2="855.4" stroke="#1464C8" stroke-width="2.1" stroke-linecap="round" />
<line x1="1010.7" y1="873.7" x2="1002.9" y2="886.7" stroke="#1464C8" stroke-width="2.1" stroke-linecap="round" />
<line x1="1022.5" y1="873.7" x2="1030.3" y2="886.7" stroke="#1464C8" stroke-width="2.1" stroke-linecap="round" />
<line x1="1016.7" y1="809.2" x2="1016.7" y2="781.7" stroke="#1464C8" stroke-width="2.1" stroke-linecap="round" />
<line x1="1016.7" y1="781.7" x2="1029.2" y2="774.2" stroke="#1464C8" stroke-width="2.1" stroke-linecap="round" />
<text x="0" y="0" font-family='"Liberation Sans", sans-serif' font-size="20.5" fill="#1464C8" stroke="#1464C8" stroke-width="0.35" text-anchor="start" transform="translate(1030.2,775.8) scale(1.0,1.05)" >OH</text>
<text x="0" y="0" font-family='"Liberation Sans", sans-serif' font-size="24.2" fill="#1464C8" stroke="#1464C8" stroke-width="0.35" text-anchor="middle" transform="translate(1025.3,922.5) scale(1.0,1.05)" >BODIPY</text>
<line x1="1163.2" y1="836.5" x2="1176.2" y2="836.5" stroke="#000" stroke-width="2.3" stroke-linecap="butt" />
<line x1="1169.7" y1="830" x2="1169.7" y2="843" stroke="#000" stroke-width="2.3" stroke-linecap="butt" />
<line x1="1218.8" y1="780.8" x2="1205.3" y2="773.3" stroke="#147A7A" stroke-width="2.1" stroke-linecap="round" />
<line x1="1215.8" y1="786" x2="1202.5" y2="778.6" stroke="#147A7A" stroke-width="2.1" stroke-linecap="round" />
<text x="0" y="0" font-family='"Liberation Sans", sans-serif' font-size="20.5" fill="#147A7A" stroke="#147A7A" stroke-width="0.35" text-anchor="middle" transform="translate(1196.1,775.3) scale(1.0,1.05)" >O</text>
<line x1="1218.8" y1="780.8" x2="1218.8" y2="797.5" stroke="#147A7A" stroke-width="2.1" stroke-linecap="round" />
<text x="0" y="0" font-family='"Liberation Sans", sans-serif' font-size="20.5" fill="#147A7A" stroke="#147A7A" stroke-width="0.35" text-anchor="start" transform="translate(1211.2,813.8) scale(1.0,1.05)" >OH</text>
<polyline points="1218.8,780.8 1241.2,767.6 1263.2,780.8 1285.2,767.6 1308.3,780.8" fill="none" stroke="#147A7A" stroke-width="2.1" stroke-linejoin="round" stroke-linecap="butt" />
<line x1="1308.3" y1="780.8" x2="1331.4" y2="769.4" stroke="#147A7A" stroke-width="2.1" stroke-linecap="round" />
<line x1="1331.4" y1="769.4" x2="1353.4" y2="783" stroke="#147A7A" stroke-width="2.1" stroke-linecap="round" />
<line x1="1353.4" y1="783" x2="1352.3" y2="809" stroke="#147A7A" stroke-width="2.1" stroke-linecap="round" />
<line x1="1352.3" y1="809" x2="1329.2" y2="820.8" stroke="#147A7A" stroke-width="2.1" stroke-linecap="round" />
<line x1="1329.2" y1="820.8" x2="1307.2" y2="807.6" stroke="#147A7A" stroke-width="2.1" stroke-linecap="round" />
<line x1="1307.2" y1="807.6" x2="1308.3" y2="780.8" stroke="#147A7A" stroke-width="2.1" stroke-linecap="round" />
<line x1="1332.94" y1="775.63" x2="1347.02" y2="784.33" stroke="#147A7A" stroke-width="2.1" stroke-linecap="round" />
<line x1="1346.05" y1="807.16" x2="1331.27" y2="814.72" stroke="#147A7A" stroke-width="2.1" stroke-linecap="round" />
<line x1="1311.91" y1="802.96" x2="1312.61" y2="785.8" stroke="#147A7A" stroke-width="2.1" stroke-linecap="round" />
<line x1="1352.3" y1="809" x2="1365.5" y2="816" stroke="#147A7A" stroke-width="2.1" stroke-linecap="round" />
<text x="0" y="0" font-family='"Liberation Sans", sans-serif' font-size="20.5" fill="#147A7A" stroke="#147A7A" stroke-width="0.35" text-anchor="middle" transform="translate(1373.2,831) scale(1.0,1.05)" >N</text>
<polyline points="1383.1,819.3 1395.9,811.6 1419,825.2 1432.6,817.1" fill="none" stroke="#147A7A" stroke-width="2.1" stroke-linejoin="round" stroke-linecap="butt" />
<text x="0" y="0" font-family='"Liberation Sans", sans-serif' font-size="20.5" fill="#147A7A" stroke="#147A7A" stroke-width="0.35" text-anchor="start" transform="translate(1433.4,820.4) scale(1.0,1.05)" >Cl</text>
<polyline points="1372.1,834.7 1372.8,847.9 1394.8,863.3 1393.7,880" fill="none" stroke="#147A7A" stroke-width="2.1" stroke-linejoin="round" stroke-linecap="butt" />
<text x="0" y="0" font-family='"Liberation Sans", sans-serif' font-size="20.5" fill="#147A7A" stroke="#147A7A" stroke-width="0.35" text-anchor="start" transform="translate(1376.2,895.2) scale(1.0,1.05)" >Cl</text>
<text x="0" y="0" font-family='"Liberation Sans", sans-serif' font-size="24.6" fill="#147A7A" stroke="#147A7A" stroke-width="0.35" text-anchor="start" transform="translate(1224.5,916.1) scale(1.0,1.05)" >Chlorambucil (Cb)</text>
<rect x="101.5" y="1065.7" width="606" height="498.5" fill="none" stroke="#000" stroke-width="2.4"/>
<line x1="96.9" y1="1563.96" x2="101.5" y2="1563.96" stroke="#000" stroke-width="2.4" stroke-linecap="butt" />
<line x1="92.7" y1="1528.3" x2="101.5" y2="1528.3" stroke="#000" stroke-width="2.4" stroke-linecap="butt" />
<text x="0" y="0" font-family='"Liberation Sans", sans-serif' font-size="27.4" fill="#000" stroke="#000" stroke-width="0.35" text-anchor="end" transform="translate(85.2,1536.7) scale(1.0,1.05)" >0</text>
<line x1="96.9" y1="1492.64" x2="101.5" y2="1492.64" stroke="#000" stroke-width="2.4" stroke-linecap="butt" />
<line x1="92.7" y1="1456.98" x2="101.5" y2="1456.98" stroke="#000" stroke-width="2.4" stroke-linecap="butt" />
<text x="0" y="0" font-family='"Liberation Sans", sans-serif' font-size="27.4" fill="#000" stroke="#000" stroke-width="0.35" text-anchor="end" transform="translate(85.2,1465.38) scale(1.0,1.05)" >20</text>
<line x1="96.9" y1="1421.32" x2="101.5" y2="1421.32" stroke="#000" stroke-width="2.4" stroke-linecap="butt" />
<line x1="92.7" y1="1385.66" x2="101.5" y2="1385.66" stroke="#000" stroke-width="2.4" stroke-linecap="butt" />
<text x="0" y="0" font-family='"Liberation Sans", sans-serif' font-size="27.4" fill="#000" stroke="#000" stroke-width="0.35" text-anchor="end" transform="translate(85.2,1394.06) scale(1.0,1.05)" >40</text>
<line x1="96.9" y1="1350" x2="101.5" y2="1350" stroke="#000" stroke-width="2.4" stroke-linecap="butt" />
<line x1="92.7" y1="1314.34" x2="101.5" y2="1314.34" stroke="#000" stroke-width="2.4" stroke-linecap="butt" />
<text x="0" y="0" font-family='"Liberation Sans", sans-serif' font-size="27.4" fill="#000" stroke="#000" stroke-width="0.35" text-anchor="end" transform="translate(85.2,1322.74) scale(1.0,1.05)" >60</text>
<line x1="96.9" y1="1278.68" x2="101.5" y2="1278.68" stroke="#000" stroke-width="2.4" stroke-linecap="butt" />
<line x1="92.7" y1="1243.02" x2="101.5" y2="1243.02" stroke="#000" stroke-width="2.4" stroke-linecap="butt" />
<text x="0" y="0" font-family='"Liberation Sans", sans-serif' font-size="27.4" fill="#000" stroke="#000" stroke-width="0.35" text-anchor="end" transform="translate(85.2,1251.42) scale(1.0,1.05)" >80</text>
<line x1="96.9" y1="1207.36" x2="101.5" y2="1207.36" stroke="#000" stroke-width="2.4" stroke-linecap="butt" />
<line x1="92.7" y1="1171.7" x2="101.5" y2="1171.7" stroke="#000" stroke-width="2.4" stroke-linecap="butt" />
<text x="0" y="0" font-family='"Liberation Sans", sans-serif' font-size="27.4" fill="#000" stroke="#000" stroke-width="0.35" text-anchor="end" transform="translate(85.2,1180.1) scale(1.0,1.05)" >100</text>
<line x1="96.9" y1="1136.04" x2="101.5" y2="1136.04" stroke="#000" stroke-width="2.4" stroke-linecap="butt" />
<line x1="92.7" y1="1100.38" x2="101.5" y2="1100.38" stroke="#000" stroke-width="2.4" stroke-linecap="butt" />
<text x="0" y="0" font-family='"Liberation Sans", sans-serif' font-size="27.4" fill="#000" stroke="#000" stroke-width="0.35" text-anchor="end" transform="translate(85.2,1108.78) scale(1.0,1.05)" >120</text>
<line x1="96.9" y1="1064.72" x2="101.5" y2="1064.72" stroke="#000" stroke-width="2.4" stroke-linecap="butt" />
<line x1="102.05" y1="1564.2" x2="102.05" y2="1569" stroke="#000" stroke-width="2.4" stroke-linecap="butt" />
<line x1="162.6" y1="1564.2" x2="162.6" y2="1573.4" stroke="#000" stroke-width="2.4" stroke-linecap="butt" />
<text x="0" y="0" font-family='"Liberation Sans", sans-serif' font-size="27" fill="#000" stroke="#000" stroke-width="0.35" text-anchor="middle" transform="translate(162.6,1601.8) scale(1.0,1.05)" >0</text>
<line x1="223.15" y1="1564.2" x2="223.15" y2="1569" stroke="#000" stroke-width="2.4" stroke-linecap="butt" />
<line x1="283.7" y1="1564.2" x2="283.7" y2="1573.4" stroke="#000" stroke-width="2.4" stroke-linecap="butt" />
<text x="0" y="0" font-family='"Liberation Sans", sans-serif' font-size="27" fill="#000" stroke="#000" stroke-width="0.35" text-anchor="middle" transform="translate(283.7,1601.8) scale(1.0,1.05)" >2</text>
<line x1="344.25" y1="1564.2" x2="344.25" y2="1569" stroke="#000" stroke-width="2.4" stroke-linecap="butt" />
<line x1="404.8" y1="1564.2" x2="404.8" y2="1573.4" stroke="#000" stroke-width="2.4" stroke-linecap="butt" />
<text x="0" y="0" font-family='"Liberation Sans", sans-serif' font-size="27" fill="#000" stroke="#000" stroke-width="0.35" text-anchor="middle" transform="translate(404.8,1601.8) scale(1.0,1.05)" >4</text>
<line x1="465.35" y1="1564.2" x2="465.35" y2="1569" stroke="#000" stroke-width="2.4" stroke-linecap="butt" />
<line x1="525.9" y1="1564.2" x2="525.9" y2="1573.4" stroke="#000" stroke-width="2.4" stroke-linecap="butt" />
<text x="0" y="0" font-family='"Liberation Sans", sans-serif' font-size="27" fill="#000" stroke="#000" stroke-width="0.35" text-anchor="middle" transform="translate(525.9,1601.8) scale(1.0,1.05)" >6</text>
<line x1="586.45" y1="1564.2" x2="586.45" y2="1569" stroke="#000" stroke-width="2.4" stroke-linecap="butt" />
<line x1="647" y1="1564.2" x2="647" y2="1573.4" stroke="#000" stroke-width="2.4" stroke-linecap="butt" />
<text x="0" y="0" font-family='"Liberation Sans", sans-serif' font-size="27" fill="#000" stroke="#000" stroke-width="0.35" text-anchor="middle" transform="translate(647,1601.8) scale(1.0,1.05)" >8</text>
<line x1="707.55" y1="1564.2" x2="707.55" y2="1569" stroke="#000" stroke-width="2.4" stroke-linecap="butt" />
<line x1="164.22" y1="1177.99" x2="221.53" y2="1400.05" stroke="#0B5FA8" stroke-width="2" stroke-linecap="butt" />
<line x1="228.9" y1="1409.37" x2="338.5" y2="1467.14" stroke="#0B5FA8" stroke-width="2" stroke-linecap="butt" />
<line x1="350.34" y1="1472.44" x2="459.26" y2="1512.84" stroke="#0B5FA8" stroke-width="2" stroke-linecap="butt" />
<line x1="471.84" y1="1515.48" x2="640.51" y2="1525.08" stroke="#0B5FA8" stroke-width="2" stroke-linecap="butt" />
<line x1="162.6" y1="1166.35" x2="162.6" y2="1177.05" stroke="#0B5FA8" stroke-width="2" stroke-linecap="butt" />
<line x1="157.3" y1="1166.35" x2="167.9" y2="1166.35" stroke="#0B5FA8" stroke-width="2" stroke-linecap="butt" />
<line x1="157.3" y1="1177.05" x2="167.9" y2="1177.05" stroke="#0B5FA8" stroke-width="2" stroke-linecap="butt" />
<rect x="157.6" y="1166.7" width="10" height="10" fill="#0B5FA8"/>
<line x1="223.15" y1="1393.51" x2="223.15" y2="1419.18" stroke="#0B5FA8" stroke-width="2" stroke-linecap="butt" />
<line x1="217.85" y1="1393.51" x2="228.45" y2="1393.51" stroke="#0B5FA8" stroke-width="2" stroke-linecap="butt" />
<line x1="217.85" y1="1419.18" x2="228.45" y2="1419.18" stroke="#0B5FA8" stroke-width="2" stroke-linecap="butt" />
<rect x="218.15" y="1401.34" width="10" height="10" fill="#0B5FA8"/>
<line x1="344.25" y1="1456.45" x2="344.25" y2="1483.9" stroke="#0B5FA8" stroke-width="2" stroke-linecap="butt" />
<line x1="338.95" y1="1456.45" x2="349.55" y2="1456.45" stroke="#0B5FA8" stroke-width="2" stroke-linecap="butt" />
<line x1="338.95" y1="1483.9" x2="349.55" y2="1483.9" stroke="#0B5FA8" stroke-width="2" stroke-linecap="butt" />
<rect x="339.25" y="1465.17" width="10" height="10" fill="#0B5FA8"/>
<line x1="465.35" y1="1508.33" x2="465.35" y2="1521.88" stroke="#0B5FA8" stroke-width="2" stroke-linecap="butt" />
<line x1="460.05" y1="1508.33" x2="470.65" y2="1508.33" stroke="#0B5FA8" stroke-width="2" stroke-linecap="butt" />
<line x1="460.05" y1="1521.88" x2="470.65" y2="1521.88" stroke="#0B5FA8" stroke-width="2" stroke-linecap="butt" />
<rect x="460.35" y="1510.11" width="10" height="10" fill="#0B5FA8"/>
<line x1="647" y1="1523.66" x2="647" y2="1527.23" stroke="#0B5FA8" stroke-width="2" stroke-linecap="butt" />
<line x1="641.7" y1="1523.66" x2="652.3" y2="1523.66" stroke="#0B5FA8" stroke-width="2" stroke-linecap="butt" />
<line x1="641.7" y1="1527.23" x2="652.3" y2="1527.23" stroke="#0B5FA8" stroke-width="2" stroke-linecap="butt" />
<rect x="642" y="1520.45" width="10" height="10" fill="#0B5FA8"/>
<line x1="166.46" y1="1176.93" x2="219.29" y2="1248.49" stroke="#4DB8FF" stroke-width="2" stroke-linecap="butt" />
<line x1="227.41" y1="1258.63" x2="339.99" y2="1388.24" stroke="#4DB8FF" stroke-width="2" stroke-linecap="butt" />
<line x1="350.27" y1="1395.6" x2="459.33" y2="1439.91" stroke="#4DB8FF" stroke-width="2" stroke-linecap="butt" />
<line x1="471.3" y1="1444.98" x2="641.05" y2="1519.79" stroke="#4DB8FF" stroke-width="2" stroke-linecap="butt" />
<line x1="162.6" y1="1154.94" x2="162.6" y2="1188.46" stroke="#4DB8FF" stroke-width="2" stroke-linecap="butt" />
<line x1="157.3" y1="1154.94" x2="167.9" y2="1154.94" stroke="#4DB8FF" stroke-width="2" stroke-linecap="butt" />
<line x1="157.3" y1="1188.46" x2="167.9" y2="1188.46" stroke="#4DB8FF" stroke-width="2" stroke-linecap="butt" />
<circle cx="162.6" cy="1171.7" r="5.8" fill="#4DB8FF"/>
<line x1="223.15" y1="1244.09" x2="223.15" y2="1263.35" stroke="#4DB8FF" stroke-width="2" stroke-linecap="butt" />
<line x1="217.85" y1="1244.09" x2="228.45" y2="1244.09" stroke="#4DB8FF" stroke-width="2" stroke-linecap="butt" />
<line x1="217.85" y1="1263.35" x2="228.45" y2="1263.35" stroke="#4DB8FF" stroke-width="2" stroke-linecap="butt" />
<circle cx="223.15" cy="1253.72" r="5.8" fill="#4DB8FF"/>
<line x1="344.25" y1="1350" x2="344.25" y2="1436.3" stroke="#4DB8FF" stroke-width="2" stroke-linecap="butt" />
<line x1="338.95" y1="1350" x2="349.55" y2="1350" stroke="#4DB8FF" stroke-width="2" stroke-linecap="butt" />
<line x1="338.95" y1="1436.3" x2="349.55" y2="1436.3" stroke="#4DB8FF" stroke-width="2" stroke-linecap="butt" />
<circle cx="344.25" cy="1393.15" r="5.8" fill="#4DB8FF"/>
<line x1="465.35" y1="1392.79" x2="465.35" y2="1491.93" stroke="#4DB8FF" stroke-width="2" stroke-linecap="butt" />
<line x1="460.05" y1="1392.79" x2="470.65" y2="1392.79" stroke="#4DB8FF" stroke-width="2" stroke-linecap="butt" />
<line x1="460.05" y1="1491.93" x2="470.65" y2="1491.93" stroke="#4DB8FF" stroke-width="2" stroke-linecap="butt" />
<circle cx="465.35" cy="1442.36" r="5.8" fill="#4DB8FF"/>
<line x1="647" y1="1520.99" x2="647" y2="1523.84" stroke="#4DB8FF" stroke-width="2" stroke-linecap="butt" />
<line x1="641.7" y1="1520.99" x2="652.3" y2="1520.99" stroke="#4DB8FF" stroke-width="2" stroke-linecap="butt" />
<line x1="641.7" y1="1523.84" x2="652.3" y2="1523.84" stroke="#4DB8FF" stroke-width="2" stroke-linecap="butt" />
<circle cx="647" cy="1522.42" r="5.8" fill="#4DB8FF"/>
<line x1="169.09" y1="1172.12" x2="640.51" y2="1202.66" stroke="#CC0000" stroke-width="2.6" stroke-linecap="butt" />
<line x1="162.6" y1="1159.22" x2="162.6" y2="1184.18" stroke="#CC0000" stroke-width="2" stroke-linecap="butt" />
<line x1="157.3" y1="1159.22" x2="167.9" y2="1159.22" stroke="#CC0000" stroke-width="2" stroke-linecap="butt" />
<line x1="157.3" y1="1184.18" x2="167.9" y2="1184.18" stroke="#CC0000" stroke-width="2" stroke-linecap="butt" />
<polygon points="155.6,1176.9 169.6,1176.9 162.6,1164.1" fill="#CC0000" stroke="none" stroke-width="0"/>
<line x1="647" y1="1198.44" x2="647" y2="1207.72" stroke="#CC0000" stroke-width="2" stroke-linecap="butt" />
<line x1="641.7" y1="1198.44" x2="652.3" y2="1198.44" stroke="#CC0000" stroke-width="2" stroke-linecap="butt" />
<line x1="641.7" y1="1207.72" x2="652.3" y2="1207.72" stroke="#CC0000" stroke-width="2" stroke-linecap="butt" />
<polygon points="640,1208.28 654,1208.28 647,1195.48" fill="#CC0000" stroke="none" stroke-width="0"/>
<line x1="168.95" y1="1173.08" x2="216.8" y2="1183.51" stroke="#F0A05A" stroke-width="2" stroke-linecap="butt" />
<line x1="229.63" y1="1185.41" x2="337.77" y2="1194.01" stroke="#F0A05A" stroke-width="2" stroke-linecap="butt" />
<line x1="350.56" y1="1196.1" x2="459.04" y2="1223.26" stroke="#F0A05A" stroke-width="2" stroke-linecap="butt" />
<line x1="471.85" y1="1224.91" x2="640.5" y2="1226.9" stroke="#F0A05A" stroke-width="2" stroke-linecap="butt" />
<line x1="162.6" y1="1165.28" x2="162.6" y2="1178.12" stroke="#F0A05A" stroke-width="2" stroke-linecap="butt" />
<line x1="157.3" y1="1165.28" x2="167.9" y2="1165.28" stroke="#F0A05A" stroke-width="2" stroke-linecap="butt" />
<line x1="157.3" y1="1178.12" x2="167.9" y2="1178.12" stroke="#F0A05A" stroke-width="2" stroke-linecap="butt" />
<polygon points="155.6,1166.5 169.6,1166.5 162.6,1179.3" fill="#F0A05A" stroke="none" stroke-width="0"/>
<line x1="223.15" y1="1177.41" x2="223.15" y2="1192.38" stroke="#F0A05A" stroke-width="2" stroke-linecap="butt" />
<line x1="217.85" y1="1177.41" x2="228.45" y2="1177.41" stroke="#F0A05A" stroke-width="2" stroke-linecap="butt" />
<line x1="217.85" y1="1192.38" x2="228.45" y2="1192.38" stroke="#F0A05A" stroke-width="2" stroke-linecap="butt" />
<polygon points="216.15,1179.69 230.15,1179.69 223.15,1192.49" fill="#F0A05A" stroke="none" stroke-width="0"/>
<line x1="344.25" y1="1190.24" x2="344.25" y2="1198.8" stroke="#F0A05A" stroke-width="2" stroke-linecap="butt" />
<line x1="338.95" y1="1190.24" x2="349.55" y2="1190.24" stroke="#F0A05A" stroke-width="2" stroke-linecap="butt" />
<line x1="338.95" y1="1198.8" x2="349.55" y2="1198.8" stroke="#F0A05A" stroke-width="2" stroke-linecap="butt" />
<polygon points="337.25,1189.32 351.25,1189.32 344.25,1202.12" fill="#F0A05A" stroke="none" stroke-width="0"/>
<line x1="465.35" y1="1209.5" x2="465.35" y2="1240.17" stroke="#F0A05A" stroke-width="2" stroke-linecap="butt" />
<line x1="460.05" y1="1209.5" x2="470.65" y2="1209.5" stroke="#F0A05A" stroke-width="2" stroke-linecap="butt" />
<line x1="460.05" y1="1240.17" x2="470.65" y2="1240.17" stroke="#F0A05A" stroke-width="2" stroke-linecap="butt" />
<polygon points="458.35,1219.63 472.35,1219.63 465.35,1232.43" fill="#F0A05A" stroke="none" stroke-width="0"/>
<line x1="647" y1="1221.62" x2="647" y2="1232.32" stroke="#F0A05A" stroke-width="2" stroke-linecap="butt" />
<line x1="641.7" y1="1221.62" x2="652.3" y2="1221.62" stroke="#F0A05A" stroke-width="2" stroke-linecap="butt" />
<line x1="641.7" y1="1232.32" x2="652.3" y2="1232.32" stroke="#F0A05A" stroke-width="2" stroke-linecap="butt" />
<polygon points="640,1221.77 654,1221.77 647,1234.57" fill="#F0A05A" stroke="none" stroke-width="0"/>
<text x="0" y="0" font-family='"Liberation Sans", sans-serif' font-size="30.4" fill="#000" stroke="#000" stroke-width="0.35" text-anchor="middle" transform="translate(405.5,1650.3) scale(1.0,1.05)" >Irradiation time (min)</text>
<text x="0" y="0" font-family='"Liberation Sans", sans-serif' font-size="31.4" fill="#000" stroke="#000" stroke-width="0.35" text-anchor="middle" transform="translate(28.4,1315.8) rotate(-90) scale(1.0,1.05)" >Uncleaved BODIPY-Cb (%)</text>
<line x1="118" y1="1092.4" x2="142.8" y2="1092.4" stroke="#0B5FA8" stroke-width="2.2" stroke-linecap="round" />
<line x1="156.8" y1="1092.4" x2="181.6" y2="1092.4" stroke="#0B5FA8" stroke-width="2.2" stroke-linecap="round" />
<rect x="144.8" y="1087.4" width="10" height="10" fill="#0B5FA8"/>
<text x="0" y="0" font-family='"Liberation Sans", sans-serif' font-size="27.8" fill="#000" stroke="#000" stroke-width="0.35" text-anchor="start" transform="translate(189.1,1101.4) scale(1.0,1.05)" >(0.1 eq Os, N<tspan font-size="20" dy="7.5">2</tspan><tspan dy="-7.5">)</tspan></text>
<line x1="387.6" y1="1092.4" x2="412.3" y2="1092.4" stroke="#4DB8FF" stroke-width="2.2" stroke-linecap="round" />
<line x1="426.3" y1="1092.4" x2="451" y2="1092.4" stroke="#4DB8FF" stroke-width="2.2" stroke-linecap="round" />
<circle cx="419.3" cy="1092.4" r="5.8" fill="#4DB8FF"/>
<text x="0" y="0" font-family='"Liberation Sans", sans-serif' font-size="27.8" fill="#000" stroke="#000" stroke-width="0.35" text-anchor="start" transform="translate(458.5,1101.4) scale(1.0,1.05)" >(0.05 eq Os, N<tspan font-size="20" dy="7.5">2</tspan><tspan dy="-7.5">)</tspan></text>
<line x1="118" y1="1132.4" x2="142.8" y2="1132.4" stroke="#CC0000" stroke-width="2.2" stroke-linecap="round" />
<line x1="156.8" y1="1132.4" x2="181.6" y2="1132.4" stroke="#CC0000" stroke-width="2.2" stroke-linecap="round" />
<polygon points="142.8,1137.6 156.8,1137.6 149.8,1124.8" fill="#CC0000" stroke="none" stroke-width="0"/>
<text x="0" y="0" font-family='"Liberation Sans", sans-serif' font-size="27.8" fill="#000" stroke="#000" stroke-width="0.35" text-anchor="start" transform="translate(189.1,1141.4) scale(1.0,1.05)" >(0 eq Os, N<tspan font-size="20" dy="7.5">2</tspan><tspan dy="-7.5">)</tspan></text>
<line x1="387.6" y1="1132.4" x2="412.3" y2="1132.4" stroke="#F0A05A" stroke-width="2.2" stroke-linecap="round" />
<line x1="426.3" y1="1132.4" x2="451" y2="1132.4" stroke="#F0A05A" stroke-width="2.2" stroke-linecap="round" />
<polygon points="412.3,1127.2 426.3,1127.2 419.3,1140" fill="#F0A05A" stroke="none" stroke-width="0"/>
<text x="0" y="0" font-family='"Liberation Sans", sans-serif' font-size="27.8" fill="#000" stroke="#000" stroke-width="0.35" text-anchor="start" transform="translate(458.5,1141.4) scale(1.0,1.05)" >(0.1 eq Os, Air)</text>
<text x="0" y="0" font-family='"Liberation Sans", sans-serif' font-size="39" fill="#000" text-anchor="start" font-weight="bold" transform="translate(17.5,1047.7)" >e</text>
<rect x="870.5" y="1065.1" width="603" height="497.4" fill="none" stroke="#000" stroke-width="2.4"/>
<line x1="865.9" y1="1562.46" x2="870.5" y2="1562.46" stroke="#000" stroke-width="2.4" stroke-linecap="butt" />
<line x1="861.7" y1="1524.2" x2="870.5" y2="1524.2" stroke="#000" stroke-width="2.4" stroke-linecap="butt" />
<text x="0" y="0" font-family='"Liberation Sans", sans-serif' font-size="27.4" fill="#000" stroke="#000" stroke-width="0.35" text-anchor="end" transform="translate(854.2,1532.6) scale(1.0,1.05)" >0</text>
<line x1="865.9" y1="1485.94" x2="870.5" y2="1485.94" stroke="#000" stroke-width="2.4" stroke-linecap="butt" />
<line x1="861.7" y1="1447.68" x2="870.5" y2="1447.68" stroke="#000" stroke-width="2.4" stroke-linecap="butt" />
<text x="0" y="0" font-family='"Liberation Sans", sans-serif' font-size="27.4" fill="#000" stroke="#000" stroke-width="0.35" text-anchor="end" transform="translate(854.2,1456.08) scale(1.0,1.05)" >20</text>
<line x1="865.9" y1="1409.42" x2="870.5" y2="1409.42" stroke="#000" stroke-width="2.4" stroke-linecap="butt" />
<line x1="861.7" y1="1371.16" x2="870.5" y2="1371.16" stroke="#000" stroke-width="2.4" stroke-linecap="butt" />
<text x="0" y="0" font-family='"Liberation Sans", sans-serif' font-size="27.4" fill="#000" stroke="#000" stroke-width="0.35" text-anchor="end" transform="translate(854.2,1379.56) scale(1.0,1.05)" >40</text>
<line x1="865.9" y1="1332.9" x2="870.5" y2="1332.9" stroke="#000" stroke-width="2.4" stroke-linecap="butt" />
<line x1="861.7" y1="1294.64" x2="870.5" y2="1294.64" stroke="#000" stroke-width="2.4" stroke-linecap="butt" />
<text x="0" y="0" font-family='"Liberation Sans", sans-serif' font-size="27.4" fill="#000" stroke="#000" stroke-width="0.35" text-anchor="end" transform="translate(854.2,1303.04) scale(1.0,1.05)" >60</text>
<line x1="865.9" y1="1256.38" x2="870.5" y2="1256.38" stroke="#000" stroke-width="2.4" stroke-linecap="butt" />
<line x1="861.7" y1="1218.12" x2="870.5" y2="1218.12" stroke="#000" stroke-width="2.4" stroke-linecap="butt" />
<text x="0" y="0" font-family='"Liberation Sans", sans-serif' font-size="27.4" fill="#000" stroke="#000" stroke-width="0.35" text-anchor="end" transform="translate(854.2,1226.52) scale(1.0,1.05)" >80</text>
<line x1="865.9" y1="1179.86" x2="870.5" y2="1179.86" stroke="#000" stroke-width="2.4" stroke-linecap="butt" />
<line x1="861.7" y1="1141.6" x2="870.5" y2="1141.6" stroke="#000" stroke-width="2.4" stroke-linecap="butt" />
<text x="0" y="0" font-family='"Liberation Sans", sans-serif' font-size="27.4" fill="#000" stroke="#000" stroke-width="0.35" text-anchor="end" transform="translate(854.2,1150) scale(1.0,1.05)" >100</text>
<line x1="865.9" y1="1103.34" x2="870.5" y2="1103.34" stroke="#000" stroke-width="2.4" stroke-linecap="butt" />
<line x1="861.7" y1="1065.08" x2="870.5" y2="1065.08" stroke="#000" stroke-width="2.4" stroke-linecap="butt" />
<text x="0" y="0" font-family='"Liberation Sans", sans-serif' font-size="27.4" fill="#000" stroke="#000" stroke-width="0.35" text-anchor="end" transform="translate(854.2,1073.48) scale(1.0,1.05)" >120</text>
<line x1="870.2" y1="1562.5" x2="870.2" y2="1567.3" stroke="#000" stroke-width="2.4" stroke-linecap="butt" />
<line x1="930.5" y1="1562.5" x2="930.5" y2="1571.7" stroke="#000" stroke-width="2.4" stroke-linecap="butt" />
<text x="0" y="0" font-family='"Liberation Sans", sans-serif' font-size="27" fill="#000" stroke="#000" stroke-width="0.35" text-anchor="middle" transform="translate(930.5,1600.1) scale(1.0,1.05)" >0</text>
<line x1="990.8" y1="1562.5" x2="990.8" y2="1567.3" stroke="#000" stroke-width="2.4" stroke-linecap="butt" />
<line x1="1051.1" y1="1562.5" x2="1051.1" y2="1571.7" stroke="#000" stroke-width="2.4" stroke-linecap="butt" />
<text x="0" y="0" font-family='"Liberation Sans", sans-serif' font-size="27" fill="#000" stroke="#000" stroke-width="0.35" text-anchor="middle" transform="translate(1051.1,1600.1) scale(1.0,1.05)" >2</text>
<line x1="1111.4" y1="1562.5" x2="1111.4" y2="1567.3" stroke="#000" stroke-width="2.4" stroke-linecap="butt" />
<line x1="1171.7" y1="1562.5" x2="1171.7" y2="1571.7" stroke="#000" stroke-width="2.4" stroke-linecap="butt" />
<text x="0" y="0" font-family='"Liberation Sans", sans-serif' font-size="27" fill="#000" stroke="#000" stroke-width="0.35" text-anchor="middle" transform="translate(1171.7,1600.1) scale(1.0,1.05)" >4</text>
<line x1="1232" y1="1562.5" x2="1232" y2="1567.3" stroke="#000" stroke-width="2.4" stroke-linecap="butt" />
<line x1="1292.3" y1="1562.5" x2="1292.3" y2="1571.7" stroke="#000" stroke-width="2.4" stroke-linecap="butt" />
<text x="0" y="0" font-family='"Liberation Sans", sans-serif' font-size="27" fill="#000" stroke="#000" stroke-width="0.35" text-anchor="middle" transform="translate(1292.3,1600.1) scale(1.0,1.05)" >6</text>
<line x1="1352.6" y1="1562.5" x2="1352.6" y2="1567.3" stroke="#000" stroke-width="2.4" stroke-linecap="butt" />
<line x1="1412.9" y1="1562.5" x2="1412.9" y2="1571.7" stroke="#000" stroke-width="2.4" stroke-linecap="butt" />
<text x="0" y="0" font-family='"Liberation Sans", sans-serif' font-size="27" fill="#000" stroke="#000" stroke-width="0.35" text-anchor="middle" transform="translate(1412.9,1600.1) scale(1.0,1.05)" >8</text>
<line x1="1473.2" y1="1562.5" x2="1473.2" y2="1567.3" stroke="#000" stroke-width="2.4" stroke-linecap="butt" />
<line x1="932.45" y1="1511.11" x2="988.85" y2="1332.21" stroke="#0B5FA8" stroke-width="2" stroke-linecap="butt" />
<line x1="996.73" y1="1323.36" x2="1105.47" y2="1274.72" stroke="#0B5FA8" stroke-width="2" stroke-linecap="butt" />
<line x1="1117.04" y1="1268.83" x2="1226.36" y2="1206.05" stroke="#0B5FA8" stroke-width="2" stroke-linecap="butt" />
<line x1="1238.5" y1="1203.06" x2="1406.4" y2="1209.46" stroke="#0B5FA8" stroke-width="2" stroke-linecap="butt" />
<line x1="930.5" y1="1513.49" x2="930.5" y2="1521.14" stroke="#0B5FA8" stroke-width="2" stroke-linecap="butt" />
<line x1="925.2" y1="1513.49" x2="935.8" y2="1513.49" stroke="#0B5FA8" stroke-width="2" stroke-linecap="butt" />
<line x1="925.2" y1="1521.14" x2="935.8" y2="1521.14" stroke="#0B5FA8" stroke-width="2" stroke-linecap="butt" />
<rect x="925.5" y="1512.31" width="10" height="10" fill="#0B5FA8"/>
<line x1="990.8" y1="1317.6" x2="990.8" y2="1334.43" stroke="#0B5FA8" stroke-width="2" stroke-linecap="butt" />
<line x1="985.5" y1="1317.6" x2="996.1" y2="1317.6" stroke="#0B5FA8" stroke-width="2" stroke-linecap="butt" />
<line x1="985.5" y1="1334.43" x2="996.1" y2="1334.43" stroke="#0B5FA8" stroke-width="2" stroke-linecap="butt" />
<rect x="985.8" y="1321.01" width="10" height="10" fill="#0B5FA8"/>
<line x1="1111.4" y1="1260.59" x2="1111.4" y2="1283.54" stroke="#0B5FA8" stroke-width="2" stroke-linecap="butt" />
<line x1="1106.1" y1="1260.59" x2="1116.7" y2="1260.59" stroke="#0B5FA8" stroke-width="2" stroke-linecap="butt" />
<line x1="1106.1" y1="1283.54" x2="1116.7" y2="1283.54" stroke="#0B5FA8" stroke-width="2" stroke-linecap="butt" />
<rect x="1106.4" y="1267.07" width="10" height="10" fill="#0B5FA8"/>
<line x1="1232" y1="1187.13" x2="1232" y2="1218.5" stroke="#0B5FA8" stroke-width="2" stroke-linecap="butt" />
<line x1="1226.7" y1="1187.13" x2="1237.3" y2="1187.13" stroke="#0B5FA8" stroke-width="2" stroke-linecap="butt" />
<line x1="1226.7" y1="1218.5" x2="1237.3" y2="1218.5" stroke="#0B5FA8" stroke-width="2" stroke-linecap="butt" />
<rect x="1227" y="1197.82" width="10" height="10" fill="#0B5FA8"/>
<line x1="1412.9" y1="1205.88" x2="1412.9" y2="1213.53" stroke="#0B5FA8" stroke-width="2" stroke-linecap="butt" />
<line x1="1407.6" y1="1205.88" x2="1418.2" y2="1205.88" stroke="#0B5FA8" stroke-width="2" stroke-linecap="butt" />
<line x1="1407.6" y1="1213.53" x2="1418.2" y2="1213.53" stroke="#0B5FA8" stroke-width="2" stroke-linecap="butt" />
<rect x="1407.9" y="1204.7" width="10" height="10" fill="#0B5FA8"/>
<line x1="935.93" y1="1514.88" x2="985.37" y2="1482.25" stroke="#4DB8FF" stroke-width="2" stroke-linecap="butt" />
<line x1="995.56" y1="1474.25" x2="1106.64" y2="1370.99" stroke="#4DB8FF" stroke-width="2" stroke-linecap="butt" />
<line x1="1117.11" y1="1363.47" x2="1226.29" y2="1304.24" stroke="#4DB8FF" stroke-width="2" stroke-linecap="butt" />
<line x1="1238.15" y1="1299.04" x2="1406.75" y2="1241.27" stroke="#4DB8FF" stroke-width="2" stroke-linecap="butt" />
<line x1="930.5" y1="1516.55" x2="930.5" y2="1520.37" stroke="#4DB8FF" stroke-width="2" stroke-linecap="butt" />
<line x1="925.2" y1="1516.55" x2="935.8" y2="1516.55" stroke="#4DB8FF" stroke-width="2" stroke-linecap="butt" />
<line x1="925.2" y1="1520.37" x2="935.8" y2="1520.37" stroke="#4DB8FF" stroke-width="2" stroke-linecap="butt" />
<circle cx="930.5" cy="1518.46" r="5.8" fill="#4DB8FF"/>
<line x1="990.8" y1="1475.61" x2="990.8" y2="1481.73" stroke="#4DB8FF" stroke-width="2" stroke-linecap="butt" />
<line x1="985.5" y1="1475.61" x2="996.1" y2="1475.61" stroke="#4DB8FF" stroke-width="2" stroke-linecap="butt" />
<line x1="985.5" y1="1481.73" x2="996.1" y2="1481.73" stroke="#4DB8FF" stroke-width="2" stroke-linecap="butt" />
<circle cx="990.8" cy="1478.67" r="5.8" fill="#4DB8FF"/>
<line x1="1111.4" y1="1348.2" x2="1111.4" y2="1384.93" stroke="#4DB8FF" stroke-width="2" stroke-linecap="butt" />
<line x1="1106.1" y1="1348.2" x2="1116.7" y2="1348.2" stroke="#4DB8FF" stroke-width="2" stroke-linecap="butt" />
<line x1="1106.1" y1="1384.93" x2="1116.7" y2="1384.93" stroke="#4DB8FF" stroke-width="2" stroke-linecap="butt" />
<circle cx="1111.4" cy="1366.57" r="5.8" fill="#4DB8FF"/>
<line x1="1232" y1="1279.72" x2="1232" y2="1322.57" stroke="#4DB8FF" stroke-width="2" stroke-linecap="butt" />
<line x1="1226.7" y1="1279.72" x2="1237.3" y2="1279.72" stroke="#4DB8FF" stroke-width="2" stroke-linecap="butt" />
<line x1="1226.7" y1="1322.57" x2="1237.3" y2="1322.57" stroke="#4DB8FF" stroke-width="2" stroke-linecap="butt" />
<circle cx="1232" cy="1301.14" r="5.8" fill="#4DB8FF"/>
<line x1="1412.9" y1="1208.94" x2="1412.9" y2="1269.39" stroke="#4DB8FF" stroke-width="2" stroke-linecap="butt" />
<line x1="1407.6" y1="1208.94" x2="1418.2" y2="1208.94" stroke="#4DB8FF" stroke-width="2" stroke-linecap="butt" />
<line x1="1407.6" y1="1269.39" x2="1418.2" y2="1269.39" stroke="#4DB8FF" stroke-width="2" stroke-linecap="butt" />
<circle cx="1412.9" cy="1239.16" r="5.8" fill="#4DB8FF"/>
<line x1="937" y1="1516.55" x2="1406.4" y2="1516.93" stroke="#CC0000" stroke-width="2.6" stroke-linecap="butt" />
<polygon points="923.5,1521.75 937.5,1521.75 930.5,1508.95" fill="#CC0000" stroke="none" stroke-width="0"/>
<polygon points="1405.9,1522.13 1419.9,1522.13 1412.9,1509.33" fill="#CC0000" stroke="none" stroke-width="0"/>
<line x1="936.98" y1="1522.56" x2="984.32" y2="1518.95" stroke="#F0A05A" stroke-width="2" stroke-linecap="butt" />
<line x1="997.28" y1="1517.95" x2="1104.92" y2="1509.41" stroke="#F0A05A" stroke-width="2" stroke-linecap="butt" />
<line x1="1117.89" y1="1508.48" x2="1225.51" y2="1501.66" stroke="#F0A05A" stroke-width="2" stroke-linecap="butt" />
<line x1="1238.47" y1="1500.66" x2="1406.43" y2="1485.38" stroke="#F0A05A" stroke-width="2" stroke-linecap="butt" />
<polygon points="923.5,1517.85 937.5,1517.85 930.5,1530.65" fill="#F0A05A" stroke="none" stroke-width="0"/>
<polygon points="983.8,1513.26 997.8,1513.26 990.8,1526.06" fill="#F0A05A" stroke="none" stroke-width="0"/>
<polygon points="1104.4,1503.7 1118.4,1503.7 1111.4,1516.5" fill="#F0A05A" stroke="none" stroke-width="0"/>
<polygon points="1225,1496.04 1239,1496.04 1232,1508.84" fill="#F0A05A" stroke="none" stroke-width="0"/>
<polygon points="1405.9,1479.59 1419.9,1479.59 1412.9,1492.39" fill="#F0A05A" stroke="none" stroke-width="0"/>
<text x="0" y="0" font-family='"Liberation Sans", sans-serif' font-size="30.4" fill="#000" stroke="#000" stroke-width="0.35" text-anchor="middle" transform="translate(1173,1650.3) scale(1.0,1.05)" >Irradiation time (min)</text>
<text x="0" y="0" font-family='"Liberation Sans", sans-serif' font-size="30.3" fill="#000" stroke="#000" stroke-width="0.35" text-anchor="middle" transform="translate(797.2,1313.2) rotate(-90) scale(1.0,1.05)" >Released Cb (%)</text>
<line x1="895" y1="1096.4" x2="919.7" y2="1096.4" stroke="#0B5FA8" stroke-width="2.2" stroke-linecap="round" />
<line x1="933.7" y1="1096.4" x2="958.4" y2="1096.4" stroke="#0B5FA8" stroke-width="2.2" stroke-linecap="round" />
<rect x="921.7" y="1091.4" width="10" height="10" fill="#0B5FA8"/>
<text x="0" y="0" font-family='"Liberation Sans", sans-serif' font-size="27.8" fill="#000" stroke="#000" stroke-width="0.35" text-anchor="start" transform="translate(965.9,1106.2) scale(1.0,1.05)" >(0.1 eq Os, N<tspan font-size="20" dy="7.5">2</tspan><tspan dy="-7.5">)</tspan></text>
<line x1="1165" y1="1096.4" x2="1188.25" y2="1096.4" stroke="#4DB8FF" stroke-width="2.2" stroke-linecap="round" />
<line x1="1202.25" y1="1096.4" x2="1225.5" y2="1096.4" stroke="#4DB8FF" stroke-width="2.2" stroke-linecap="round" />
<circle cx="1195.25" cy="1096.4" r="5.8" fill="#4DB8FF"/>
<text x="0" y="0" font-family='"Liberation Sans", sans-serif' font-size="27.8" fill="#000" stroke="#000" stroke-width="0.35" text-anchor="start" transform="translate(1233,1106.2) scale(1.0,1.05)" >(0.05 eq Os, N<tspan font-size="20" dy="7.5">2</tspan><tspan dy="-7.5">)</tspan></text>
<line x1="895" y1="1137.2" x2="919.7" y2="1137.2" stroke="#CC0000" stroke-width="2.2" stroke-linecap="round" />
<line x1="933.7" y1="1137.2" x2="958.4" y2="1137.2" stroke="#CC0000" stroke-width="2.2" stroke-linecap="round" />
<polygon points="919.7,1142.4 933.7,1142.4 926.7,1129.6" fill="#CC0000" stroke="none" stroke-width="0"/>
<text x="0" y="0" font-family='"Liberation Sans", sans-serif' font-size="27.8" fill="#000" stroke="#000" stroke-width="0.35" text-anchor="start" transform="translate(965.9,1147) scale(1.0,1.05)" >(0 eq Os, N<tspan font-size="20" dy="7.5">2</tspan><tspan dy="-7.5">)</tspan></text>
<line x1="1165" y1="1137.2" x2="1188.25" y2="1137.2" stroke="#F0A05A" stroke-width="2.2" stroke-linecap="round" />
<line x1="1202.25" y1="1137.2" x2="1225.5" y2="1137.2" stroke="#F0A05A" stroke-width="2.2" stroke-linecap="round" />
<polygon points="1188.25,1132 1202.25,1132 1195.25,1144.8" fill="#F0A05A" stroke="none" stroke-width="0"/>
<text x="0" y="0" font-family='"Liberation Sans", sans-serif' font-size="27.8" fill="#000" stroke="#000" stroke-width="0.35" text-anchor="start" transform="translate(1233,1147) scale(1.0,1.05)" >(0.1 eq Os, Air)</text>
<text x="0" y="0" font-family='"Liberation Sans", sans-serif' font-size="39" fill="#000" text-anchor="start" font-weight="bold" transform="translate(779.8,1047.3)" >f</text>
</svg>
</body></html>
